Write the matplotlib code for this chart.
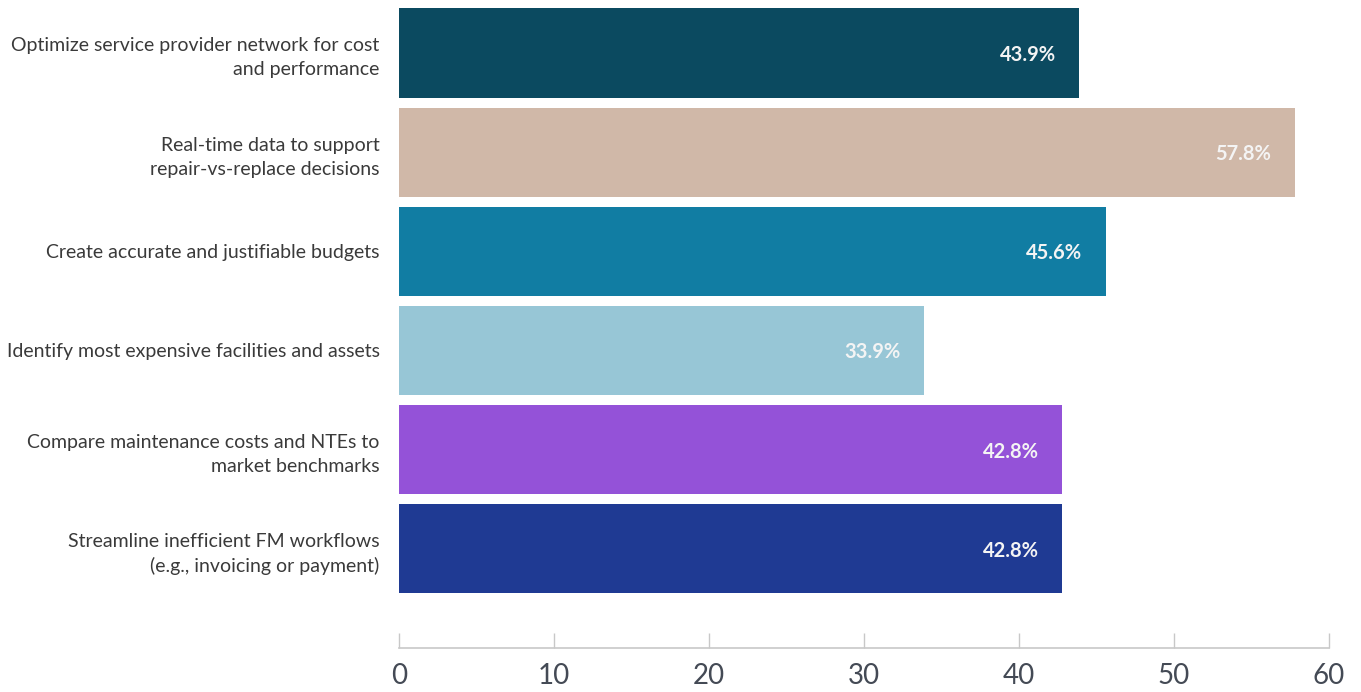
import matplotlib.pyplot as plt

categories = [
    "Optimize service provider network for cost\nand performance",
    "Real-time data to support\nrepair-vs-replace decisions",
    "Create accurate and justifiable budgets",
    "Identify most expensive facilities and assets",
    "Compare maintenance costs and NTEs to\nmarket benchmarks",
    "Streamline inefficient FM workflows\n(e.g., invoicing or payment)",
]
values = [43.9, 57.8, 45.6, 33.9, 42.8, 42.8]
colors = ["#0B4A60", "#D0B8A8", "#117DA3", "#97C6D6", "#9452D8", "#1F3A93"]
xticks = [0, 10, 20, 30, 40, 50, 60]

plt.rcParams['font.family'] = ['Lato', 'DejaVu Sans']

fig = plt.figure(figsize=(13.61, 6.92), dpi=100)
ax = fig.add_axes([399 / 1361, 1 - 648 / 692, 930 / 1361, 644.6 / 692])

pos = list(range(len(values)))
ax.barh(pos, values, height=0.9, color=colors)
ax.set_ylim(6.0, -0.5)
ax.set_xlim(0, 60)

# value labels inside the bar ends
for y, v in zip(pos, values):
    ax.annotate(f"{v:.1f}%", (v, y), xytext=(-17, 0), textcoords="offset points",
                ha="right", va="center_baseline", color="#F4F4F4",
                fontsize=14.5, fontweight="bold")

ax.set_yticks(pos)
ax.set_yticklabels(categories, fontsize=14, color="#3A3A3A", linespacing=1.5)
ax.tick_params(axis="y", length=0, pad=14)

ax.set_xticks(xticks)
ax.set_xticklabels([str(t) for t in xticks], fontsize=20, color="#444A55")
ax.tick_params(axis="x", direction="in", length=11, width=1, color="#C8C8C8", pad=11)

for side in ["top", "right", "left"]:
    ax.spines[side].set_visible(False)
ax.spines["bottom"].set_color("#C8C8C8")
ax.spines["bottom"].set_linewidth(1.2)

fig.savefig("out.png", dpi=100)
